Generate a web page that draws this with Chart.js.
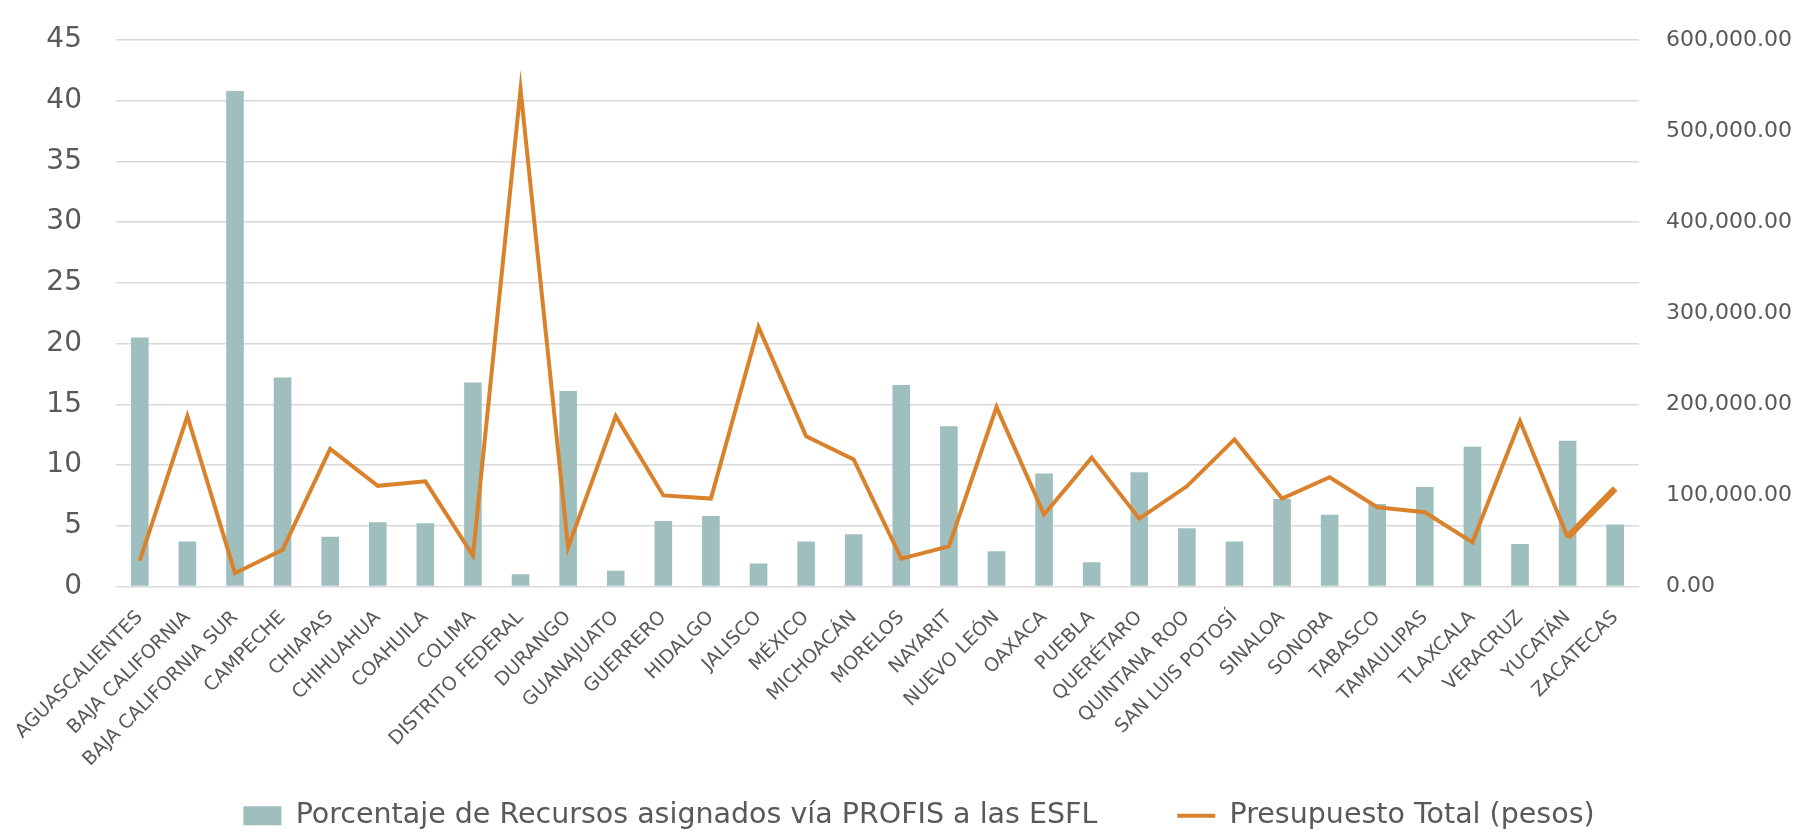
<!DOCTYPE html>
<html lang="es">
<head>
<meta charset="utf-8">
<title>PROFIS - ESFL</title>
<script src="https://cdn.jsdelivr.net/npm/chart.js@4.4.1/dist/chart.umd.min.js"></script>
<style>
    html, body { margin: 0; padding: 0; background: #ffffff; }
    #wrap { width: 1795px; height: 833px; position: relative; }
</style>
</head>
<body>
<div id="wrap"><canvas id="profisChart"></canvas></div>
<script>
// Data
const categories = [
    'AGUASCALIENTES', 'BAJA CALIFORNIA', 'BAJA CALIFORNIA SUR', 'CAMPECHE', 'CHIAPAS',
    'CHIHUAHUA', 'COAHUILA', 'COLIMA', 'DISTRITO FEDERAL', 'DURANGO', 'GUANAJUATO',
    'GUERRERO', 'HIDALGO', 'JALISCO', 'MÉXICO', 'MICHOACÁN', 'MORELOS', 'NAYARIT',
    'NUEVO LEÓN', 'OAXACA', 'PUEBLA', 'QUERÉTARO', 'QUINTANA ROO', 'SAN LUIS POTOSÍ',
    'SINALOA', 'SONORA', 'TABASCO', 'TAMAULIPAS', 'TLAXCALA', 'VERACRUZ', 'YUCATÁN', 'ZACATECAS'
];

const porcentaje = [
    20.5, 3.7, 40.8, 17.2, 4.1, 5.3, 5.2, 16.8, 1.0, 16.1, 1.3,
    5.4, 5.8, 1.9, 3.7, 4.3, 16.6, 13.2, 2.9, 9.3, 2.0, 9.4,
    4.8, 3.7, 7.2, 5.9, 6.8, 8.2, 11.5, 3.5, 12.0, 5.1
];

const presupuesto = [
    28500, 187000, 14600, 40300, 151000, 110500, 115500, 34000, 546000, 43000, 187000,
    100000, 96500, 285000, 165000, 139500, 30500, 44000, 197000, 79000, 141500, 74500,
    110000, 161500, 96500, 120000, 87000, 81500, 48500, 181500, 54000, 107500
];

const leftTicks = [0, 5, 10, 15, 20, 25, 30, 35, 40, 45];
const rightTicks = [0, 100000, 200000, 300000, 400000, 500000, 600000];

document.addEventListener('DOMContentLoaded', function() {
    const fontFamily = '"DejaVu Sans", sans-serif';
    const textColor = '#595959';
    const gridColor = '#d9d9d9';

    // keep the plot box where the original has it
    function noVerticalPadding(scale) {
        scale.paddingTop = 0;
        scale.paddingBottom = 0;
    }

    // the rotated state names run into the empty band above the legend,
    // so don't clip them to the (shortened) x axis box
    const labelRoom = {
        id: 'labelRoom',
        afterLayout: function(chart) {
            chart.scales.x.bottom = chart.height;
        }
    };

    const ctx = document.getElementById('profisChart');
    new Chart(ctx, {
        data: {
            labels: categories,
            datasets: [{
                type: 'bar',
                label: 'Porcentaje de Recursos asignados vía PROFIS a las ESFL',
                data: porcentaje,
                yAxisID: 'y',
                backgroundColor: '#9fbfbe',
                borderWidth: 0,
                barPercentage: 0.37,
                categoryPercentage: 1,
                order: 2
            }, {
                type: 'line',
                label: 'Presupuesto Total (pesos)',
                data: presupuesto,
                yAxisID: 'y1',
                borderColor: '#d9822b',
                backgroundColor: '#d9822b',
                borderWidth: 4,
                pointRadius: 0,
                tension: 0,
                order: 1,
                segment: {
                    // the last segment is drawn heavier in the original
                    borderWidth: function(c) {
                        return c.p1DataIndex === presupuesto.length - 1 ? 6.5 : 4;
                    }
                }
            }]
        },
        plugins: [labelRoom],
        options: {
            responsive: true,
            maintainAspectRatio: false,
            animation: false,
            layout: {
                padding: { left: 46, right: 3, top: 40, bottom: -7 }
            },
            plugins: {
                tooltip: { enabled: false },
                legend: {
                    position: 'bottom',
                    labels: {
                        color: textColor,
                        font: { family: fontFamily, size: 28.5 },
                        usePointStyle: true,
                        pointStyleWidth: 38,
                        boxHeight: 19,
                        padding: 80,
                        sort: function(a, b) { return a.datasetIndex - b.datasetIndex; },
                        generateLabels: function(chart) {
                            const items = Chart.defaults.plugins.legend.labels.generateLabels(chart);
                            items.forEach(function(item) {
                                item.pointStyle = item.datasetIndex === 0 ? 'rect' : 'line';
                                if (item.datasetIndex === 1) item.lineWidth = 4;
                            });
                            return items;
                        }
                    }
                }
            },
            scales: {
                x: {
                    grid: { display: false },
                    border: { display: false },
                    ticks: {
                        color: textColor,
                        font: { family: fontFamily, size: 19 },
                        minRotation: 45,
                        maxRotation: 45,
                        autoSkip: false,
                        padding: 12
                    },
                    afterFit: function(scale) {
                        scale.paddingLeft = 0;
                        scale.paddingRight = 0;
                        scale.height = 135;
                    }
                },
                y: {
                    position: 'left',
                    min: 0,
                    max: 45,
                    afterBuildTicks: function(axis) {
                        axis.ticks = leftTicks.map(function(v) { return { value: v }; });
                    },
                    afterFit: function(scale) {
                        noVerticalPadding(scale);
                        scale.width = 70;
                    },
                    grid: { color: gridColor, lineWidth: 1.5, drawTicks: false },
                    border: { display: false },
                    ticks: {
                        color: textColor,
                        font: { family: fontFamily, size: 28 },
                        padding: 34
                    }
                },
                y1: {
                    position: 'right',
                    min: 0,
                    max: 600000,
                    afterBuildTicks: function(axis) {
                        axis.ticks = rightTicks.map(function(v) { return { value: v }; });
                    },
                    afterFit: function(scale) {
                        noVerticalPadding(scale);
                        scale.width = 153;
                    },
                    grid: { display: false, drawTicks: false },
                    border: { display: false },
                    ticks: {
                        color: textColor,
                        font: { family: fontFamily, size: 22 },
                        padding: 27,
                        callback: function(value) {
                            return value.toLocaleString('en-US', { minimumFractionDigits: 2, maximumFractionDigits: 2 });
                        }
                    }
                }
            }
        }
    });
});
</script>
</body>
</html>
